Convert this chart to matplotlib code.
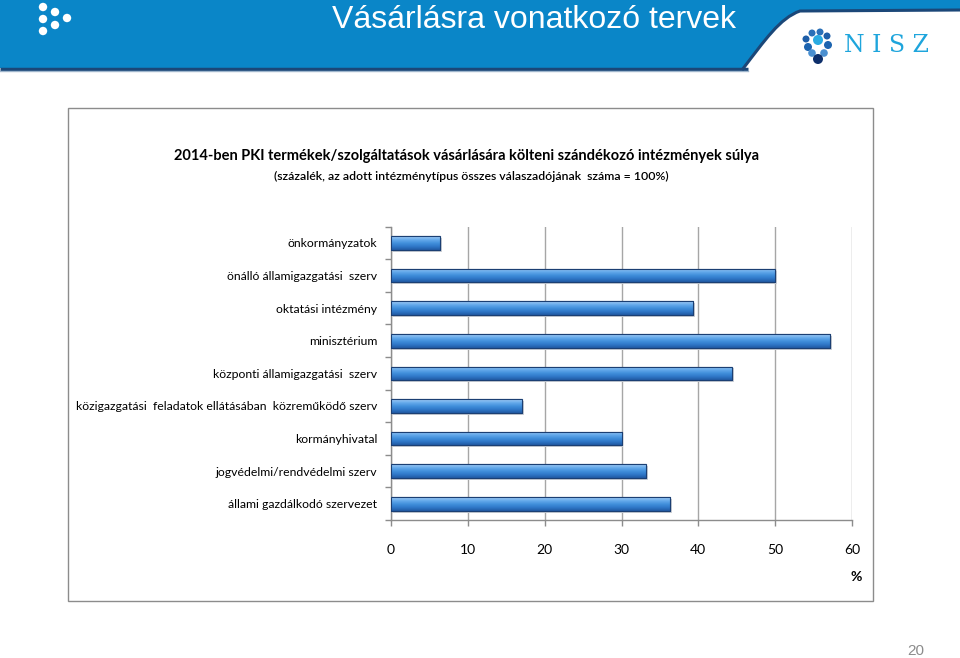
import matplotlib
matplotlib.use("Agg")
import matplotlib.pyplot as plt
import numpy as np
from matplotlib.patches import Rectangle, Circle, PathPatch
from matplotlib.path import Path
from matplotlib.colors import LinearSegmentedColormap

categories = [
    "önkormányzatok",
    "önálló államigazgatási  szerv",
    "oktatási intézmény",
    "minisztérium",
    "központi államigazgatási  szerv",
    "közigazgatási  feladatok ellátásában  közreműködő szerv",
    "kormányhivatal",
    "jogvédelmi/rendvédelmi szerv",
    "állami gazdálkodó szervezet",
]
values = [6.4, 50.0, 39.3, 57.1, 44.4, 17.1, 30.0, 33.2, 36.3]
xticks = [0, 10, 20, 30, 40, 50, 60]

slide_title = "Vásárlásra vonatkozó tervek"
chart_title = "2014-ben PKI termékek/szolgáltatások vásárlására költeni szándékozó intézmények súlya"
chart_subtitle = "(százalék, az adott intézménytípus összes válaszadójának  száma = 100%)"
x_unit = "%"
page_no = "20"

W, H = 960, 658
fig = plt.figure(figsize=(W / 100, H / 100), dpi=100)
fig.patch.set_facecolor("white")

# ---- decoration layer in pixel coordinates ----
deco = fig.add_axes([0, 0, 1, 1])
deco.set_xlim(0, W)
deco.set_ylim(H, 0)
deco.axis("off")

band_blue = "#0a86c8"
navy = "#1b4778"
deco.add_patch(Rectangle((0, 0), W, 68, facecolor=band_blue, edgecolor="none", zorder=1))
deco.plot([0, 748], [68.5, 68.5], color=navy, lw=2.5, zorder=3, solid_capstyle="butt")
deco.plot([0, 748], [70.5, 70.5], color="#9fb6cc", lw=1, zorder=3)

verts = [(742, 71), (765, 40), (780, 18), (800, 11), (960, 10), (960, 72), (742, 72)]
codes = [Path.MOVETO, Path.CURVE4, Path.CURVE4, Path.CURVE4, Path.LINETO, Path.LINETO, Path.CLOSEPOLY]
deco.add_patch(PathPatch(Path(verts, codes), facecolor="white", edgecolor="none", zorder=2))
edge_verts = [(742, 70), (765, 40), (780, 18), (800, 11), (960, 10)]
edge_codes = [Path.MOVETO, Path.CURVE4, Path.CURVE4, Path.CURVE4, Path.LINETO]
deco.add_patch(PathPatch(Path(edge_verts, edge_codes), facecolor="none", edgecolor=navy, lw=2.2, zorder=3))

for (cx, cy) in [(43, 7), (55, 12), (43, 19), (67, 18), (55, 25), (43, 31)]:
    deco.add_patch(Circle((cx, cy), 4.2, facecolor="white", edgecolor="none", zorder=4))

deco.text(534, 20, slide_title, color="white", fontsize=23, family="Liberation Sans",
          ha="center", va="center", zorder=5)

# NISZ logo
logo = [((806, 39), 3.5, "#1e5ea8"), ((812, 33), 3.5, "#2a70b8"), ((820, 32), 3.5, "#2a70b8"),
        ((827, 36), 3.5, "#1e5ea8"), ((818, 40), 5.0, "#29abe2"), ((808, 47), 4.0, "#1c64b0"),
        ((828, 45), 4.0, "#1c64b0"), ((812, 53), 3.8, "#4a8fd0"), ((824, 53), 3.8, "#4a8fd0"),
        ((818, 59), 5.0, "#0e2f6b")]
for (c, r, col) in logo:
    deco.add_patch(Circle(c, r, facecolor=col, edgecolor="none", zorder=4))
deco.text(886, 45, "N I S Z", color="#1ea5dc", fontsize=17, family="DejaVu Serif",
          ha="center", va="center", zorder=5)

# chart frame
deco.add_patch(Rectangle((68, 108), 805, 493, facecolor="white", edgecolor="#8c8c8c", lw=1, zorder=1))

font = "Lato"
deco.text(466, 156, chart_title, fontsize=10.5, fontweight="bold", family=font,
          ha="center", va="center", color="black", zorder=5)
deco.text(471, 176, chart_subtitle, fontsize=8.8, fontweight="semibold", family=font,
          ha="center", va="center", color="black", zorder=5)
deco.text(856, 577, x_unit, fontsize=10, fontweight="bold", family=font,
          ha="center", va="center", color="black", zorder=5)
deco.text(916, 651, page_no, fontsize=11, family="Liberation Sans",
          ha="center", va="center", color="#8c8c8c", zorder=5)

# ---- chart axes ----
left, right = 391 / W, 852 / W
bottom, top = (H - 520) / H, (H - 226.7) / H
ax = fig.add_axes([left, bottom, right - left, top - bottom])
ax.set_facecolor("none")

y = np.arange(len(categories))
bar_h = 0.42

# soft shadow
ax.barh(y + 0.06, values, height=bar_h, left=0.25, color="#cdd0d6", edgecolor="none", zorder=2)
bars = ax.barh(y, values, height=bar_h, color="#2f78cc", edgecolor="#1b3f73", lw=0.8, zorder=3)

cmap = LinearSegmentedColormap.from_list(
    "bar", ["#a4cef5", "#67abec", "#4290dc", "#2f78c8", "#2159a2"])
grad = np.linspace(0, 1, 64).reshape(-1, 1)
for b in bars:
    x0, y0 = b.get_x(), b.get_y()
    w, h = b.get_width(), b.get_height()
    im = ax.imshow(grad, cmap=cmap, aspect="auto", extent=(x0, x0 + w, y0 + h, y0),
                   zorder=3.5, interpolation="bicubic")
    im.set_clip_path(b)
    ax.add_patch(Rectangle((x0, y0), w, h, facecolor="none", edgecolor="#1b3f73", lw=0.8, zorder=4))

ax.set_xlim(0, 60)
ax.set_ylim(len(categories) - 0.5, -0.5)
ax.set_xticks(xticks)
ax.set_xticklabels([str(t) for t in xticks], family=font, fontsize=10)
ax.set_yticks(y)
ax.set_yticklabels(categories, family=font, fontsize=8.8)
ax.set_yticks(np.arange(len(categories) + 1) - 0.5, minor=True)

ax.xaxis.grid(True, color="#a6a6a6", lw=1, zorder=0)
ax.set_axisbelow(True)
for s in ["top", "right"]:
    ax.spines[s].set_visible(False)
for s in ["left", "bottom"]:
    ax.spines[s].set_color("#8c8c8c")
    ax.spines[s].set_linewidth(1)

ax.tick_params(axis="y", which="major", length=0, pad=10, labelcolor="black")
ax.tick_params(axis="y", which="minor", length=4, color="#8c8c8c", width=1)
ax.tick_params(axis="x", which="major", length=4, color="#8c8c8c", width=1, pad=13, labelcolor="black")

fig.savefig("out.png", dpi=100)
